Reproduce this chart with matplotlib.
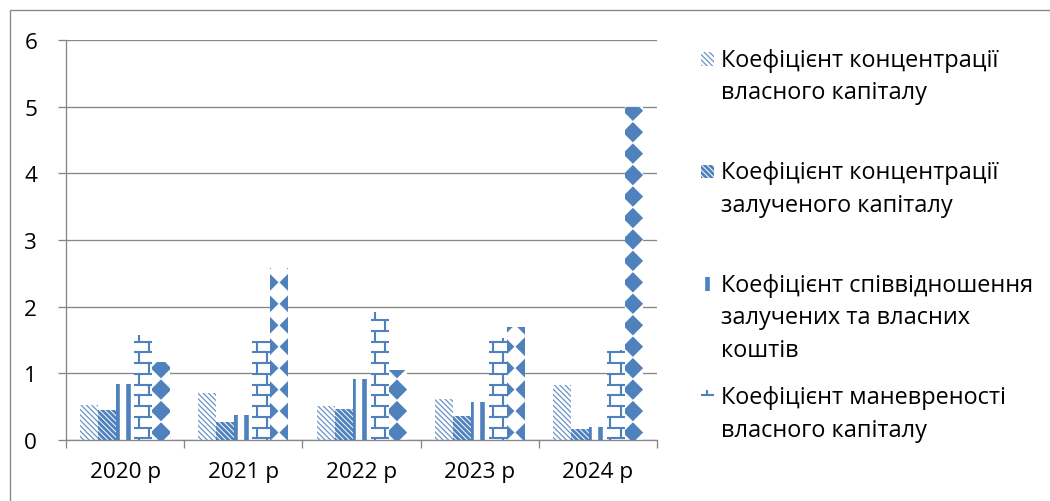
import numpy as np
import matplotlib
matplotlib.use('Agg')
import matplotlib.pyplot as plt
from matplotlib.patches import Rectangle
from matplotlib.collections import LineCollection, PolyCollection
from matplotlib.transforms import IdentityTransform

plt.rcParams['font.family'] = ['Open Sans', 'DejaVu Sans']

# Values per year
years = ['2020 р', '2021 р', '2022 р', '2023 р', '2024 р']
own_capital = [0.52, 0.70, 0.51, 0.62, 0.82]
borrowed_capital = [0.45, 0.27, 0.47, 0.36, 0.17]
debt_to_equity = [0.84, 0.37, 0.92, 0.57, 0.19]
maneuverability = [1.57, 1.48, 1.92, 1.53, 1.35]
extra_ratio = [1.17, 2.58, 1.05, 1.70, 5.00]

legend_labels = [
    'Коефіцієнт концентрації\nвласного капіталу',
    'Коефіцієнт концентрації\nзалученого капіталу',
    'Коефіцієнт співвідношення\nзалучених та власних\nкоштів',
    'Коефіцієнт маневреності\nвласного капіталу',
]

BLUE = '#4F81BD'
GRID = '#868686'
W, H = 1050, 502
TILE = 21.45          # pattern repeat in pixels
PT = 72 / 100         # pixels -> points at dpi 100
FS_TICK = 16.2
FS_LEG = 16.9

fig = plt.figure(figsize=(W / 100, H / 100), dpi=100)
ax = fig.add_axes([66 / W, 1 - 441 / H, (657 - 66) / W, 400 / H])
ax.set_xlim(-0.5, 4.5)
ax.set_ylim(0, 6)


def krange(lo, hi, off, step):
    return range(int(np.floor((lo - off) / step)) - 1, int(np.ceil((hi - off) / step)) + 2)


def fill_pattern(patch, kind, target):
    bb = patch.get_window_extent()
    x0, y0, x1, y1 = bb.x0, bb.y0, bb.x1, bb.y1
    arts = []
    if kind in ('light', 'dark'):
        step = TILE / 4
        segs = [[(c - y1 - 2, y1 + 2), (c - y0 + 2, y0 - 2)]
                for c in (k * step for k in krange(x0 + y0, x1 + y1, 0, step))]
        lw = 1.3 if kind == 'light' else 2.8
        col = '#6E96C9' if kind == 'light' else BLUE
        arts.append(LineCollection(segs, colors=col, linewidths=lw * PT))
    elif kind == 'stripes':
        step = TILE / 2
        segs = [[(117.2 + k * step, y0 - 2), (117.2 + k * step, y1 + 2)]
                for k in krange(x0, x1, 117.2, step)]
        arts.append(LineCollection(segs, colors=BLUE, linewidths=4.6 * PT,
                                   capstyle='butt'))
    elif kind == 'brick':
        h = TILE / 2
        yoff = H - 342.7
        segs = []
        for j in krange(y0, y1, yoff, h):
            yl = yoff + j * h
            segs.append([(x0 - 2, yl), (x1 + 2, yl)])
            xs = 149.3 + ((j + 1) % 2) * h
            for k in krange(x0, x1, xs, TILE):
                segs.append([(xs + k * TILE, yl), (xs + k * TILE, yl + h)])
        arts.append(LineCollection(segs, colors=BLUE, linewidths=2.1 * PT))
    elif kind == 'diamond':
        xoff, yoff, r = 161.0, H - 433.5, 10.2
        polys = []
        for i in krange(x0, x1, xoff, TILE):
            for j in krange(y0, y1, yoff, TILE):
                cx, cy = xoff + i * TILE, yoff + j * TILE
                polys.append([(cx - r, cy), (cx, cy + r), (cx + r, cy), (cx, cy - r)])
        arts.append(PolyCollection(polys, facecolors=BLUE, edgecolors='none'))
    for a in arts:
        a.set_transform(IdentityTransform())
        a.set_zorder(3)
        if target is ax:
            ax.add_collection(a, autolim=False)
        else:
            fig.add_artist(a)
        # clip to the bar itself (set after adding, so the axes keeps it)
        a.set_clip_path(patch)


# Grouped bars with pattern fills
series = [own_capital, borrowed_capital, debt_to_equity, maneuverability, extra_ratio]
kinds = ['light', 'dark', 'stripes', 'brick', 'diamond']
x = np.arange(len(years))
bw = 18 / 118.2
for n, (vals, kind) in enumerate(zip(series, kinds)):
    bars = ax.bar(x + (n - 2) * bw, vals, width=bw, facecolor='white',
                  edgecolor='none', zorder=2)
    for p in bars.patches:
        fill_pattern(p, kind, ax)

# Axes styling
for s in ('top', 'right'):
    ax.spines[s].set_visible(False)
for s in ('left', 'bottom'):
    ax.spines[s].set_color(GRID)
    ax.spines[s].set_linewidth(1.3 * PT)
ax.set_yticks(range(7))
ax.yaxis.grid(True, color=GRID, linewidth=1.3 * PT)
ax.set_axisbelow(True)
ax.tick_params(axis='y', length=8 * PT, width=1.3 * PT, color=GRID, pad=15,
               labelsize=FS_TICK)
ax.set_xticks(x)
ax.set_xticklabels(years)
ax.set_xticks(np.arange(-0.5, 5, 1), minor=True)
ax.tick_params(axis='x', which='major', length=0, pad=15, labelsize=FS_TICK)
ax.tick_params(axis='x', which='minor', length=8 * PT, width=1.3 * PT, color=GRID)

# Outer chart border
fig.add_artist(Rectangle((10, -20), 1100, H - 11 + 20, fill=False,
                         edgecolor=GRID, linewidth=1.3 * PT,
                         transform=IdentityTransform()))

# Legend
for e, (label, kind) in enumerate(zip(legend_labels, kinds)):
    base = 66.7 + e * 112.5
    sw = Rectangle((700.7, H - base), 13.3, 13.5, facecolor='white',
                   edgecolor='none', transform=IdentityTransform())
    fig.add_artist(sw)
    fill_pattern(sw, kind, fig)
    for i, line in enumerate(label.split('\n')):
        fig.text(720.7 / W, 1 - (base + i * 32.6) / H, line, fontsize=FS_LEG,
                 va='baseline', ha='left')

fig.savefig('out.png', dpi=100)
